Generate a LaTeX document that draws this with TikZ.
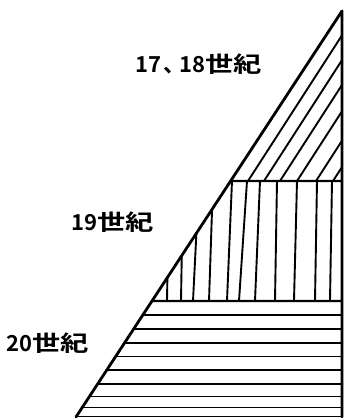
\documentclass[tikz,border=0pt]{standalone}
\usepackage{fontspec}
\usepackage{graphicx}
\newfontfamily\cjk{Noto Sans CJK JP}[BoldFont={Noto Sans CJK JP Bold}]
\usetikzlibrary{calc}
\newcommand{\wide}[1]{\scalebox{1.28}[1]{#1}}
\begin{document}
\begin{tikzpicture}[x=1pt,y=-1pt,
  edge/.style={line width=2.8pt, line cap=round, line join=round},
  bound/.style={line width=2.2pt},
  hatch/.style={line width=1.9pt},
  lbl/.style={font=\cjk\bfseries\fontsize{22}{22}\selectfont, inner sep=0pt}]
\useasboundingbox (0,0) rectangle (343,418);
\coordinate (apex) at (342,11);
\coordinate (bl) at (76,417);
\coordinate (br) at (342,417);
\coordinate (h1) at ($(apex)!0.4187!(bl)$);
\coordinate (h2) at ($(apex)!0.7143!(bl)$);
\coordinate (r1) at (342,181);
\coordinate (r2) at (342,301);
\begin{scope}
  \clip (apex) -- (bl) -- (br) -- cycle;
  % top: diagonal hatching
  \begin{scope}
    \clip (0,0) rectangle (343,181);
    \foreach \b in {248,264,280,297,316,333}
      \draw[hatch] (\b,181) -- ++(120,-186);
  \end{scope}
  % middle: vertical hatching
  \begin{scope}
    \clip (0,181) rectangle (343,301);
    \foreach \b/\t in {167/169,181/183,193/199,209/213,227/232,239/247,255/260,275/277,294/297,315/317,330/332}
      \draw[hatch] (\b,301) -- (\t,181);
  \end{scope}
  % bottom: horizontal hatching
  \foreach \y in {315,329,343,356.5,370,384,396.5,407.5,416.5}
    \draw[hatch] (0,\y) -- (343,\y);
\end{scope}
\draw[bound] (h1) -- (r1);
\draw[bound] (h2) -- (r2);
\draw[edge] (bl) -- (apex) -- (br);
\node[lbl] (l1) at (199,64) {17\kern2pt、\kern-6pt18\wide{世紀}};
\node[lbl] (l2) at (113,222) {19\wide{世紀}};
\node[lbl] (l3) at (48,343) {20\wide{世紀}};
\end{tikzpicture}
\end{document}
